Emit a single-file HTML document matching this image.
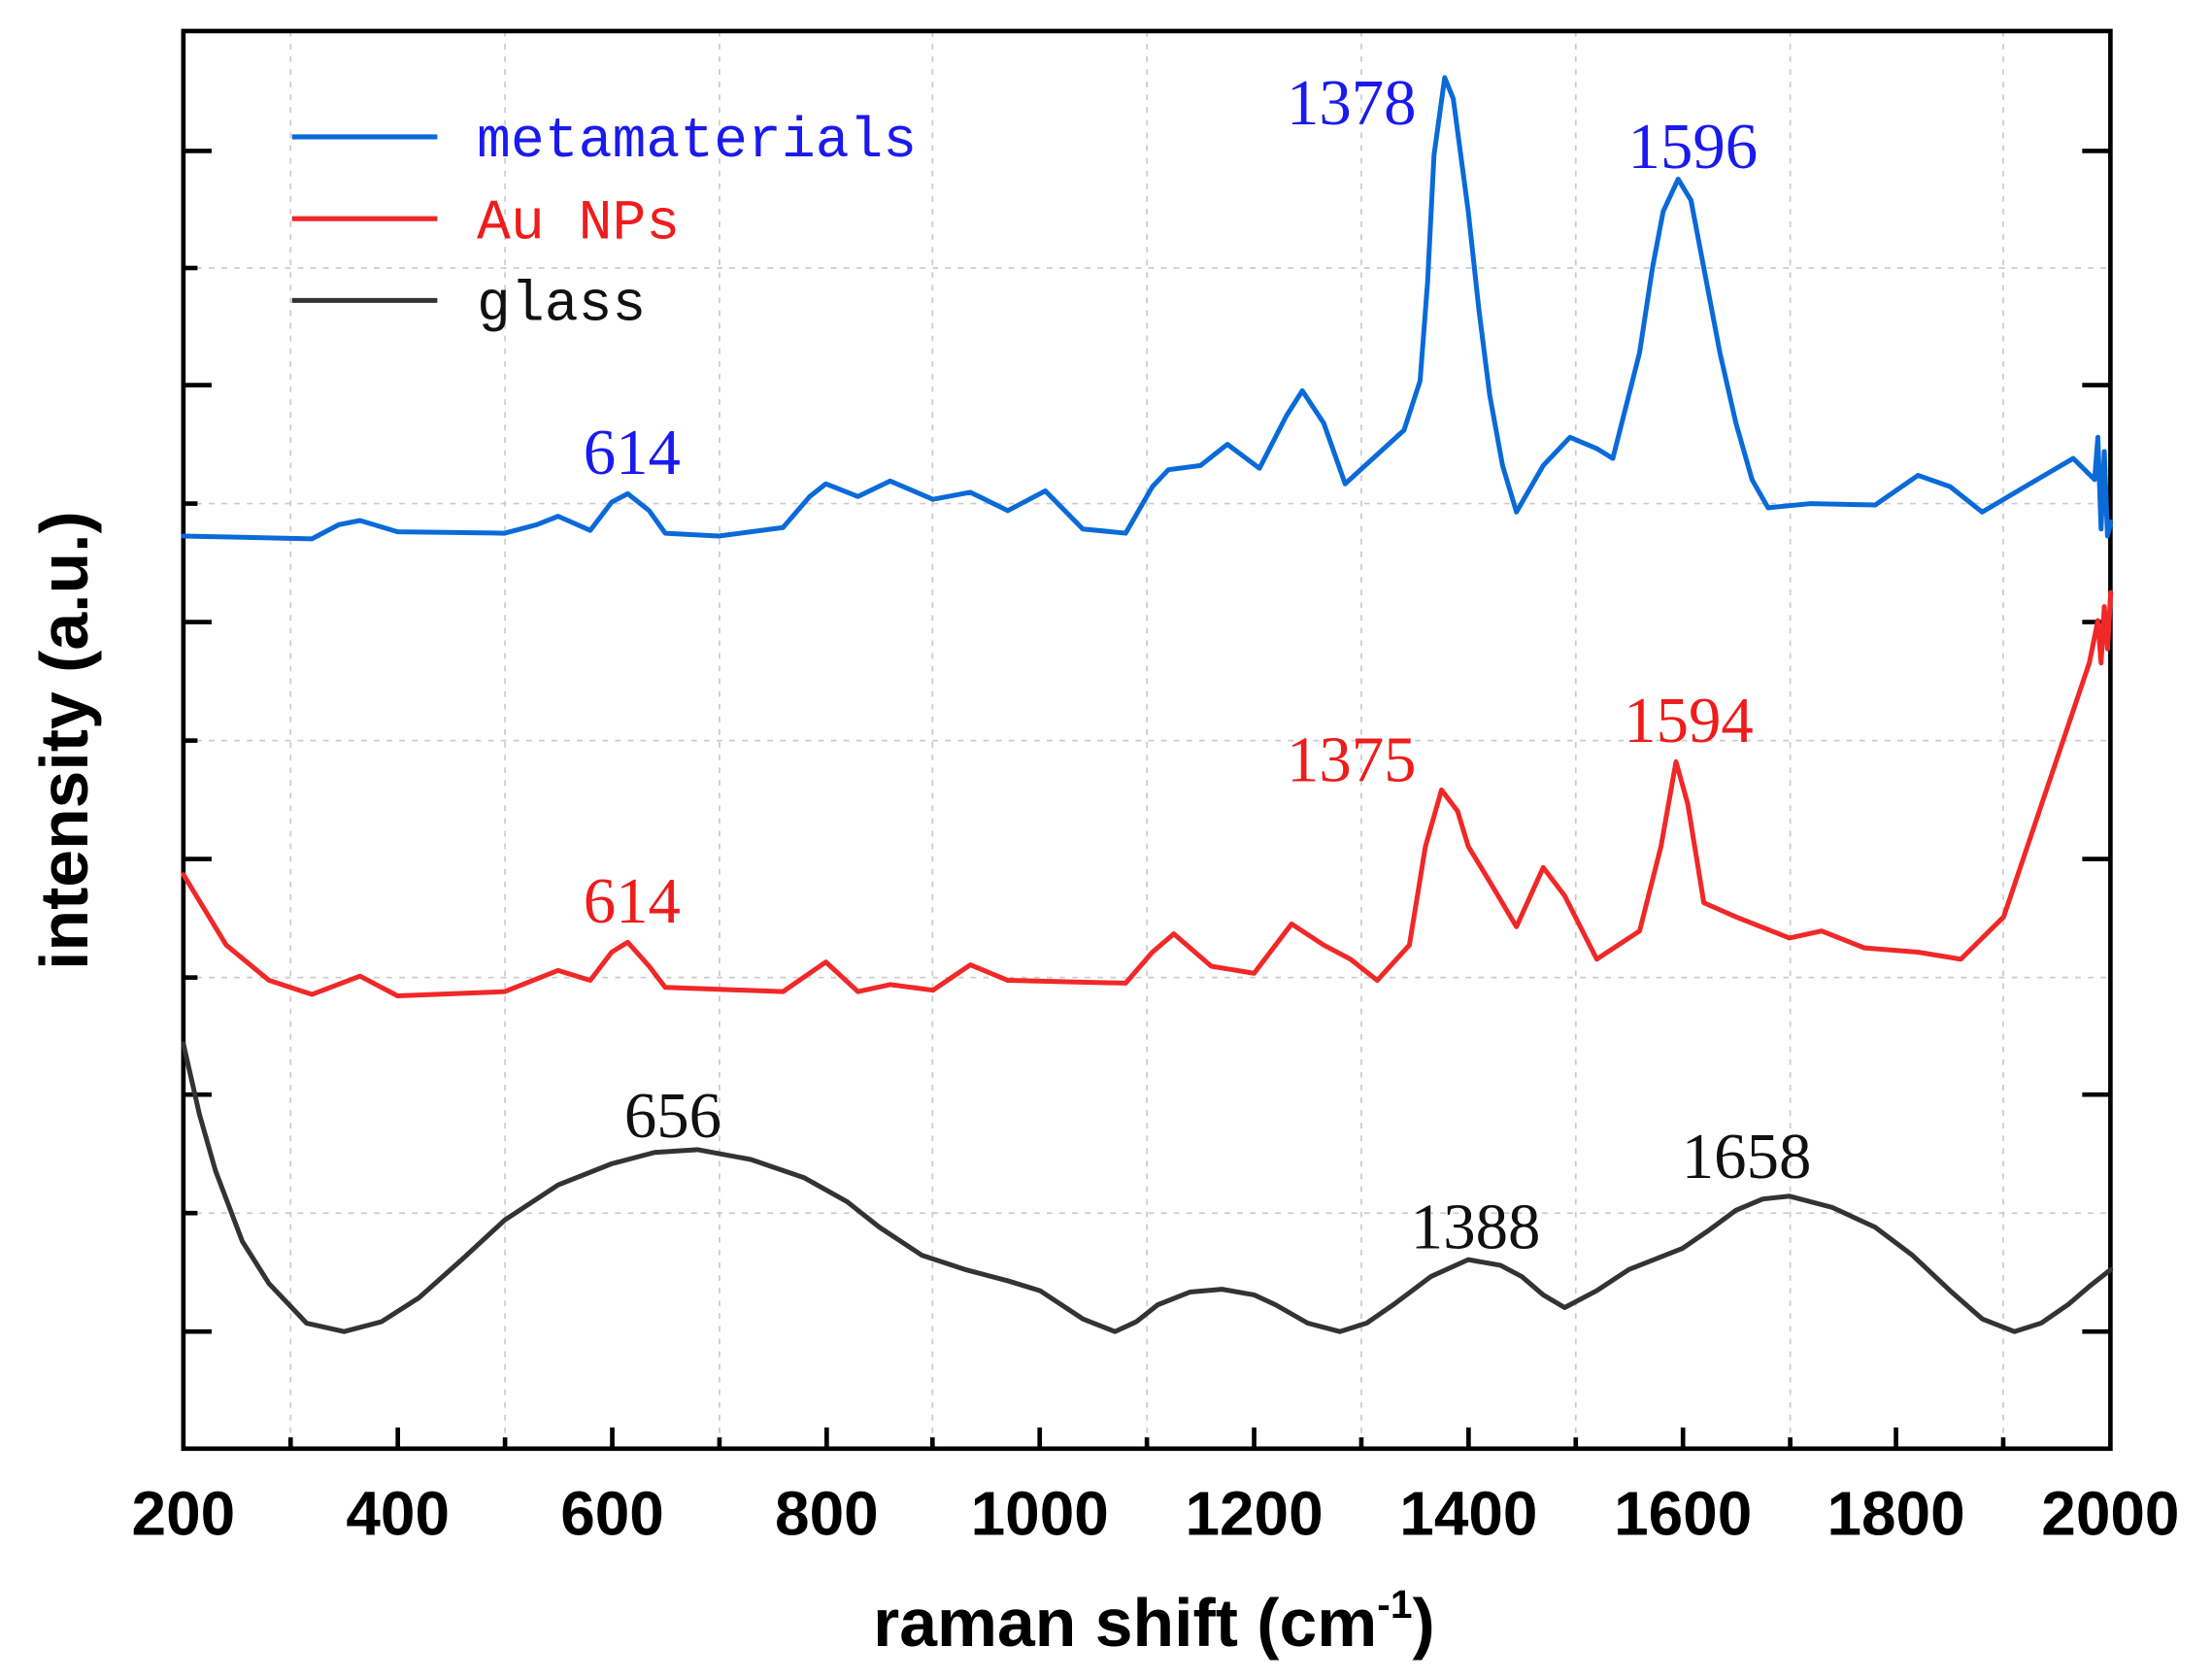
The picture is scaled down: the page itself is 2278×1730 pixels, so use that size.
<!DOCTYPE html>
<html><head><meta charset="utf-8"><style>
html,body{margin:0;padding:0;background:#fff;}
svg{display:block;}
.tk{font-family:"Liberation Sans",sans-serif;font-weight:bold;font-size:44px;fill:#000;text-anchor:middle;}
.pk{font-family:"Liberation Serif",serif;font-size:46px;text-anchor:middle;}
.lg{font-family:"Liberation Mono",monospace;font-size:40px;}
</style></head><body>
<svg width="2278" height="1730" viewBox="0 0 1568 1191" preserveAspectRatio="none" xmlns="http://www.w3.org/2000/svg">
<rect width="1568" height="1191" fill="#fff"/>
<g stroke="#ccc" stroke-width="1.2" stroke-dasharray="4,5">
<line x1="206" y1="22" x2="206" y2="1027"/><line x1="358" y1="22" x2="358" y2="1027"/><line x1="510" y1="22" x2="510" y2="1027"/><line x1="661" y1="22" x2="661" y2="1027"/><line x1="813" y1="22" x2="813" y2="1027"/><line x1="965" y1="22" x2="965" y2="1027"/><line x1="1117" y1="22" x2="1117" y2="1027"/><line x1="1269" y1="22" x2="1269" y2="1027"/><line x1="1420" y1="22" x2="1420" y2="1027"/>
<line x1="130" y1="190" x2="1496" y2="190"/><line x1="130" y1="357" x2="1496" y2="357"/><line x1="130" y1="525" x2="1496" y2="525"/><line x1="130" y1="693" x2="1496" y2="693"/><line x1="130" y1="860" x2="1496" y2="860"/>
</g>
<rect x="130" y="22" width="1366" height="1005" fill="none" stroke="#000" stroke-width="3.2"/>
<g stroke="#000" stroke-width="3.2">
<line x1="282" y1="1027" x2="282" y2="1012"/><line x1="434" y1="1027" x2="434" y2="1012"/><line x1="586" y1="1027" x2="586" y2="1012"/><line x1="737" y1="1027" x2="737" y2="1012"/><line x1="889" y1="1027" x2="889" y2="1012"/><line x1="1041" y1="1027" x2="1041" y2="1012"/><line x1="1193" y1="1027" x2="1193" y2="1012"/><line x1="1344" y1="1027" x2="1344" y2="1012"/>
<line x1="206" y1="1027" x2="206" y2="1019"/><line x1="358" y1="1027" x2="358" y2="1019"/><line x1="510" y1="1027" x2="510" y2="1019"/><line x1="661" y1="1027" x2="661" y2="1019"/><line x1="813" y1="1027" x2="813" y2="1019"/><line x1="965" y1="1027" x2="965" y2="1019"/><line x1="1117" y1="1027" x2="1117" y2="1019"/><line x1="1269" y1="1027" x2="1269" y2="1019"/><line x1="1420" y1="1027" x2="1420" y2="1019"/>
<line x1="130" y1="107" x2="150" y2="107"/><line x1="130" y1="273" x2="150" y2="273"/><line x1="130" y1="441" x2="150" y2="441"/><line x1="130" y1="609" x2="150" y2="609"/><line x1="130" y1="776" x2="150" y2="776"/><line x1="130" y1="944" x2="150" y2="944"/>
<line x1="130" y1="190" x2="140" y2="190"/><line x1="130" y1="357" x2="140" y2="357"/><line x1="130" y1="525" x2="140" y2="525"/><line x1="130" y1="693" x2="140" y2="693"/><line x1="130" y1="860" x2="140" y2="860"/>
<line x1="1496" y1="107" x2="1476" y2="107"/><line x1="1496" y1="273" x2="1476" y2="273"/><line x1="1496" y1="441" x2="1476" y2="441"/><line x1="1496" y1="609" x2="1476" y2="609"/><line x1="1496" y1="776" x2="1476" y2="776"/><line x1="1496" y1="944" x2="1476" y2="944"/>
</g>
<g transform="translate(-21.8,0) scale(0.759,1)" fill="none" stroke-width="5" stroke-linejoin="round" stroke-linecap="round">
<polyline vector-effect="non-scaling-stroke" stroke="#0a6ad8" points="200,380 320,382 345,372 365,369 400,377 500,378 530,372 550,366 580,376 600,356 615,350 635,362 650,378 700,380 760,374 785,352 800,343 830,352 860,341 900,354 935,349 970,362 1005,348 1040,375 1080,378 1105,345 1120,333 1150,330 1175,315 1205,332 1230,295 1245,277 1265,300 1285,343 1340,305 1355,270 1362,200 1368,110 1378,55 1386,70 1393,110 1400,150 1410,220 1420,280 1432,330 1445,363 1470,330 1495,310 1520,318 1535,325 1560,250 1572,190 1582,150 1596,127 1608,142 1620,190 1635,250 1650,300 1665,340 1680,360 1720,357 1780,358 1820,337 1850,345 1880,363 1920,345 1965,325 1985,340 1988,310 1991,375 1994,320 1997,380 2000,370"/>
<polyline vector-effect="non-scaling-stroke" stroke="#f02828" points="200,620 240,670 280,695 320,705 365,692 400,706 500,703 550,688 580,695 600,675 615,668 635,685 650,700 760,703 800,682 830,703 860,698 900,702 935,684 970,695 1080,697 1105,675 1125,662 1160,685 1200,690 1235,655 1265,670 1290,680 1315,695 1345,670 1360,600 1375,560 1390,575 1400,600 1420,625 1445,657 1470,615 1490,635 1520,680 1560,660 1580,600 1594,540 1605,570 1620,640 1650,650 1700,665 1730,660 1770,672 1820,675 1860,680 1900,650 1940,560 1980,470 1988,440 1991,470 1994,430 1997,460 2000,420"/>
<polyline vector-effect="non-scaling-stroke" stroke="#333" points="200,740 215,790 230,830 255,880 280,910 315,938 350,944 385,937 420,920 460,893 500,865 550,840 600,825 640,817 680,815 730,822 780,835 820,852 850,870 890,890 930,900 970,908 1000,915 1040,935 1070,944 1090,937 1110,925 1140,916 1170,914 1200,918 1220,925 1250,938 1280,944 1305,938 1330,925 1365,905 1400,893 1430,897 1450,905 1470,918 1490,927 1520,915 1550,900 1600,885 1625,872 1650,858 1675,850 1700,848 1740,856 1780,870 1815,890 1850,915 1880,935 1910,944 1935,938 1960,925 1980,912 2000,900"/>
</g>
<line x1="207" y1="97" x2="310" y2="97" stroke="#0a6ad8" stroke-width="3.5"/>
<line x1="207" y1="155" x2="310" y2="155" stroke="#f02828" stroke-width="3.5"/>
<line x1="207" y1="213" x2="310" y2="213" stroke="#333" stroke-width="3.5"/>
<text class="lg" x="338" y="111" fill="#1a1aee">metamaterials</text>
<text class="lg" x="338" y="169" fill="#ee1c1c">Au NPs</text>
<text class="lg" x="338" y="227" fill="#111">glass</text>
<g class="pk">
<text x="958" y="88" fill="#1a1aee">1378</text>
<text x="1200" y="119" fill="#1a1aee">1596</text>
<text x="448" y="336" fill="#1a1aee">614</text>
<text x="958" y="554" fill="#ee1c1c">1375</text>
<text x="1197" y="526" fill="#ee1c1c">1594</text>
<text x="448" y="654" fill="#ee1c1c">614</text>
<text x="477" y="806" fill="#111">656</text>
<text x="1046" y="885" fill="#111">1388</text>
<text x="1238" y="835" fill="#111">1658</text>
</g>
<g class="tk">
<text x="130" y="1088">200</text><text x="282" y="1088">400</text><text x="434" y="1088">600</text><text x="586" y="1088">800</text><text x="737" y="1088">1000</text><text x="889" y="1088">1200</text><text x="1041" y="1088">1400</text><text x="1193" y="1088">1600</text><text x="1344" y="1088">1800</text><text x="1496" y="1088">2000</text>
</g>
<text x="818" y="1167" class="tk" style="font-size:48px">raman shift (cm<tspan dy="-20" font-size="28">-1</tspan><tspan dy="20">)</tspan></text>
<text transform="translate(62,525) rotate(-90)" class="tk" style="font-size:48px">intensity (a.u.)</text>
</svg>
</body></html>
